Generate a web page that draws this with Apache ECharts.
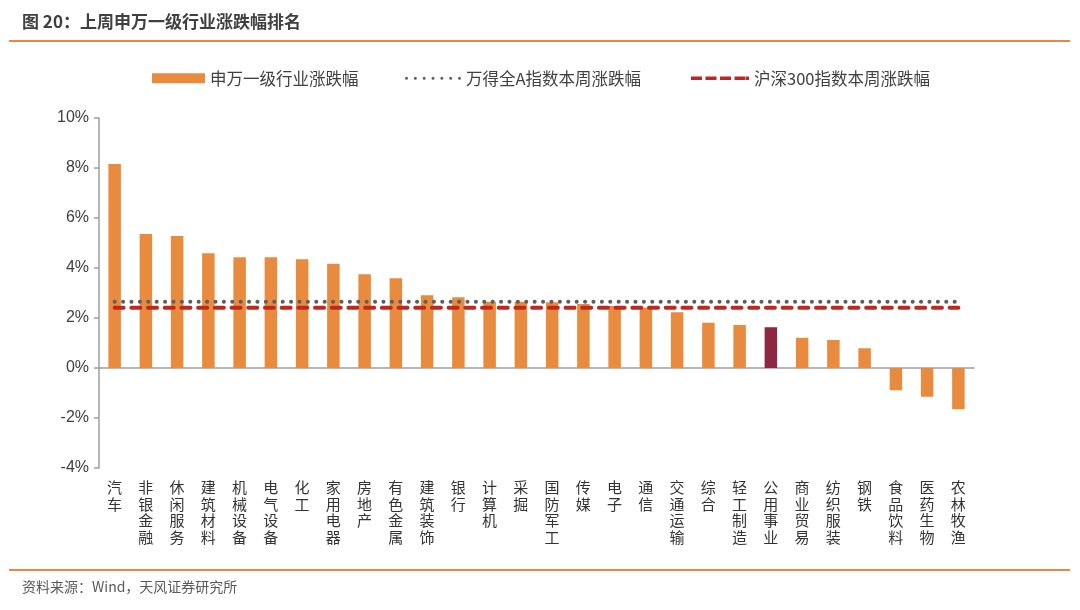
<!DOCTYPE html>
<html>
<head>
<meta charset="utf-8">
<script src="https://cdn.jsdelivr.net/npm/echarts@6/dist/echarts.min.js"></script>
<style>
html,body{margin:0;padding:0;background:#fff;}
#c{width:1080px;height:610px;}
</style>
</head>
<body>
<div id="c"></div>
<script>
const categories = ['汽车','非银金融','休闲服务','建筑材料','机械设备','电气设备','化工','家用电器','房地产','有色金属','建筑装饰','银行','计算机','采掘','国防军工','传媒','电子','通信','交通运输','综合','轻工制造','公用事业','商业贸易','纺织服装','钢铁','食品饮料','医药生物','农林牧渔'];
const industryChange = [8.16,5.36,5.28,4.59,4.43,4.43,4.35,4.17,3.75,3.59,2.91,2.83,2.65,2.65,2.63,2.56,2.48,2.41,2.23,1.81,1.72,1.63,1.21,1.12,0.79,-0.89,-1.15,-1.65];
const windAChange = 2.65;
const csi300Change = 2.41;
const highlightCategory = '公用事业';
const yTicks = [-4,-2,0,2,4,6,8,10];

const chart = echarts.init(document.getElementById('c'));
const cjk = '"Noto Sans CJK SC","Noto Sans",sans-serif';
const barData = industryChange.map((v,i)=>({
  value: v,
  itemStyle: {color: categories[i]===highlightCategory ? '#8E2741' : '#E98B3F'}
}));

// legend icon paths
let dotPath = '';
for (let i = 0; i < 7; i++) {
  const cx = 1.5 + i * (53 / 6);
  dotPath += `M${(cx-1.5).toFixed(2)},1.5a1.5,1.5 0 1,0 3,0a1.5,1.5 0 1,0 -3,0z`;
}
const dashPath = 'M0,0h11v3.5h-11z M14.5,0h11v3.5h-11z M29,0h11v3.5h-11z M43.5,0h11v3.5h-11z M55,0h3v3.5h-3z';

const legendText = {fontSize:16.5, color:'#404040', fontFamily:cjk};
chart.setOption({
  animation:false,
  backgroundColor:'#fff',
  graphic:[
    {type:'text', left:22, top:13, style:{text:'图 20：上周申万一级行业涨跌幅排名', font:'bold 17px '+cjk, fill:'#404040'}},
    {type:'rect', shape:{x:9,y:40,width:1061,height:2}, style:{fill:'#E38A48'}},
    {type:'rect', shape:{x:9,y:569,width:1061,height:2}, style:{fill:'#E38A48'}},
    {type:'text', left:22, top:580, style:{text:'资料来源：Wind，天风证券研究所', font:'14px '+cjk, fill:'#595959'}}
  ],
  legend:[
    {left:152, top:70, padding:0, itemWidth:53, itemHeight:10, textStyle:legendText,
      data:[{name:'申万一级行业涨跌幅', icon:'rect', itemStyle:{color:'#E98B3F'}}]},
    {left:405, top:70, padding:0, itemWidth:56, itemHeight:3, textStyle:legendText,
      data:[{name:'万得全A指数本周涨跌幅', icon:'path://'+dotPath, itemStyle:{color:'#5E5E5E'}}]},
    {left:691, top:70, padding:0, itemWidth:58, itemHeight:3.5, textStyle:legendText,
      data:[{name:'沪深300指数本周涨跌幅', icon:'path://'+dashPath, itemStyle:{color:'#B8282A'}}]}
  ],
  grid:{left:99, right:106, top:118, bottom:142},
  xAxis:[{
    type:'category', data:categories, position:'bottom',
    axisLine:{show:false, onZero:false}, axisTick:{show:false},
    axisLabel:{interval:0, margin:11, fontSize:15, lineHeight:16.7, color:'#333', fontFamily:cjk,
      formatter:(v)=>v.split('').join('\n'), verticalAlign:'top'}
  },{
    type:'category', data:categories, position:'bottom',
    axisLine:{show:true, onZero:true, lineStyle:{color:'#9E9E9E', width:1.5}},
    axisTick:{show:false}, axisLabel:{show:false}
  }],
  yAxis:{
    type:'value', min:-4, max:10, interval:2,
    axisLine:{show:true, lineStyle:{color:'#9E9E9E', width:1.5}},
    axisTick:{show:true, length:5, lineStyle:{color:'#9E9E9E', width:1.5}},
    splitLine:{show:false},
    axisLabel:{fontSize:16, color:'#404040', fontFamily:'"Liberation Sans",Arial,sans-serif', margin:10,
      formatter:(v)=> yTicks.includes(v) ? v+'%' : ''}
  },
  series:[
    {name:'申万一级行业涨跌幅', type:'bar', data:barData, barWidth:'40%', itemStyle:{color:'#E98B3F'}},
    {name:'万得全A指数本周涨跌幅', type:'line', symbol:'none', data:categories.map(()=>windAChange),
      lineStyle:{color:'#5E5E5E', width:4, type:[0.1,8.3], cap:'round'}, itemStyle:{color:'#5E5E5E'}},
    {name:'沪深300指数本周涨跌幅', type:'line', symbol:'none', data:categories.map(()=>csi300Change),
      lineStyle:{color:'#C0281E', width:4, type:[9,7.7], cap:'round'}, itemStyle:{color:'#C0281E'}}
  ]
});
</script>
</body>
</html>
